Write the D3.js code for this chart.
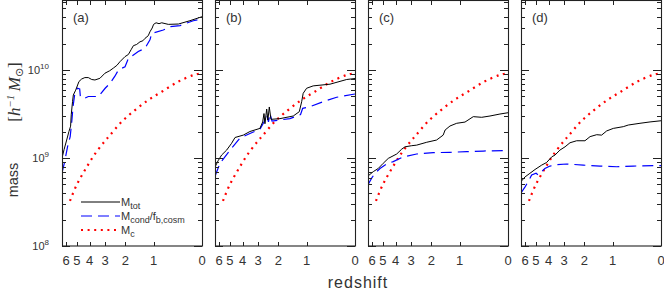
<!DOCTYPE html>
<html><head><meta charset="utf-8">
<script src="https://cdn.jsdelivr.net/npm/d3@7"></script>
<style>body{margin:0;background:#fff}svg{display:block}</style>
</head><body><svg id="c" width="664" height="291"></svg>
<script>
// ---- data ----
const redshiftTicks = [6, 5, 4, 3, 2, 1, 0];
const massTicks = [1e8, 1e9, 1e10];
const massTickExp = ["8", "9", "10"];
const panelLabels = ["(a)", "(b)", "(c)", "(d)"];

// M_c (same in every panel): [redshift, mass]
const mcAll = [[5.62,3.25e8],[5.0,5.0e8],[4.34,7.3e8],[3.68,1.08e9],[3.05,1.53e9],[2.73,1.82e9],[2.16,2.58e9],[1.61,3.5e9],[1.158,4.55e9],[0.78,5.66e9],[0.40,7.4e9],[0.121,8.8e9],[0,9.2e9]];

const mtotA = [[6.42,1.0e9],[6.2,1.25e9],[5.94,1.6e9],[5.72,2.0e9],[5.56,2.3e9],[5.5,3.1e9],[5.38,4.4e9],[5.31,5.2e9],[5.10,5.9e9],[4.82,7.4e9],[4.6,7.9e9],[4.35,8.2e9],[4.09,8.2e9],[3.85,7.8e9],[3.63,7.7e9],[3.31,8.05e9],[3.01,9.2e9],[2.75,9.8e9],[2.56,1.05e10],[2.38,1.13e10],[2.24,1.24e10],[2.01,1.42e10],[1.87,1.5e10],[1.76,1.7e10],[1.67,1.89e10],[1.55,1.95e10],[1.43,2.09e10],[1.33,2.15e10],[1.26,2.29e10],[1.16,2.45e10],[1.106,2.72e10],[1.04,3.0e10],[1.0,3.3e10],[0.93,3.44e10],[0.85,3.36e10],[0.78,3.44e10],[0.62,3.3e10],[0.40,3.33e10],[0.19,3.63e10],[0,4.03e10]];
const mcondA = [[6.42,6.8e8],[6.15,9e8],[5.85,1.35e9],[5.6,1.75e9],[5.45,2.6e9],[5.33,3.9e9],[5.16,5.6e9],[4.95,6.2e9],[4.76,6.1e9],[4.70,4.9e9],[4.6,4.85e9],[4.34,4.8e9],[4.09,5.0e9],[3.52,5.0e9],[3.41,5.0e9],[3.0,6.2e9],[2.73,7.05e9],[2.48,8.5e9],[2.31,1.0e10],[2.01,1.09e10],[1.87,1.35e10],[1.49,1.62e10],[1.26,1.77e10],[1.106,2.2e10],[1.055,2.6e10],[0.74,2.85e10],[0.58,3.1e10],[0.37,3.2e10],[0.133,3.63e10],[0,3.8e10]];

const mtotB = [[6.42,7.9e8],[6.1,9.3e8],[5.75,1.08e9],[5.28,1.23e9],[4.85,1.47e9],[4.57,1.71e9],[3.95,1.82e9],[3.5,2.0e9],[2.9,2.17e9],[2.75,2.57e9],[2.68,3.2e9],[2.63,2.45e9],[2.54,3.6e9],[2.48,2.7e9],[2.41,3.8e9],[2.33,2.75e9],[1.93,2.8e9],[1.42,3.0e9],[1.22,3.36e9],[1.146,4.36e9],[1.10,5.43e9],[1.0,6.2e9],[0.82,6.6e9],[0.43,6.9e9],[0.126,7.8e9],[0,8.0e9]];
const mcondB = [[6.42,6.2e8],[5.91,8.7e8],[4.98,1.23e9],[4.19,1.68e9],[3.5,1.9e9],[2.9,2.12e9],[2.68,2.57e9],[2.54,3.1e9],[2.45,2.57e9],[2.38,3.2e9],[2.28,2.63e9],[1.54,2.8e9],[1.18,3.12e9],[1.115,3.67e9],[0.905,3.83e9],[0.574,4.37e9],[0.30,4.9e9],[0,5.34e9]];

const mtotC = [[6.45,6.2e8],[5.88,7.0e8],[5.41,7.6e8],[4.97,8.7e8],[4.55,9.9e8],[3.92,1.11e9],[3.58,1.26e9],[3.37,1.34e9],[2.97,1.38e9],[2.70,1.40e9],[2.20,1.51e9],[1.78,1.60e9],[1.53,1.82e9],[1.46,2.08e9],[1.295,2.31e9],[1.084,2.48e9],[0.851,2.56e9],[0.644,2.95e9],[0.457,2.9e9],[0.294,3.0e9],[0.122,3.16e9],[0,3.27e9]];
const mcondC = [[6.45,4.9e8],[6.04,5.9e8],[5.72,6.7e8],[5.25,7.6e8],[4.68,8.55e8],[4.17,9.1e8],[3.48,1.03e9],[2.70,1.11e9],[1.915,1.15e9],[1.295,1.16e9],[0.807,1.18e9],[0.424,1.20e9],[0,1.22e9]];

const mtotD = [[6.42,5.4e8],[6.0,6.1e8],[5.53,6.7e8],[5.07,7.4e8],[4.52,8.3e8],[4.14,8.9e8],[3.78,1.03e9],[3.56,1.08e9],[3.25,1.23e9],[2.95,1.34e9],[2.68,1.49e9],[2.345,1.57e9],[1.97,1.57e9],[1.76,1.75e9],[1.51,1.84e9],[1.34,1.82e9],[1.177,2.03e9],[0.98,2.17e9],[0.716,2.27e9],[0.597,2.37e9],[0.351,2.48e9],[0.17,2.57e9],[0,2.65e9]];
const mcondD = [[6.42,4.0e8],[6.0,4.7e8],[5.69,5.4e8],[5.37,6.4e8],[4.98,6.7e8],[4.8,6.4e8],[4.52,7.0e8],[4.27,7.6e8],[3.90,8.1e8],[3.45,8.4e8],[2.86,8.55e8],[2.04,8.3e8],[1.395,8.1e8],[0.886,7.95e8],[0.486,8.1e8],[0,8.2e8]];

const mtotPanels = [mtotA, mtotB, mtotC, mtotD];
const mcondPanels = [mcondA, mcondB, mcondC, mcondD];

// ---- layout ----
const svg = d3.select("#c");
const yTop = 1, yBot = 246, pw = 140, step = 153, left0 = 62;
const axisColor = "#222", textColor = "#333";
const y = d3.scaleLog().domain([1e8, Math.pow(10, 8 + 245 / 88)]).range([yBot, yTop]);

const defs = svg.append("defs");

panelLabels.forEach((lab, i) => {
  const L = left0 + i * step, R = L + pw;
  const xs = d3.scaleLog().domain([7.42, 1]).range([L, R]);
  const x = z => xs(1 + z);
  const g = svg.append("g");
  defs.append("clipPath").attr("id", "clip" + i).append("rect")
    .attr("x", L).attr("y", yTop).attr("width", pw).attr("height", yBot - yTop);
  const cg = g.append("g").attr("clip-path", `url(#clip${i})`);
  const line = d3.line().x(d => x(d[0])).y(d => y(d[1]));
  const smooth = d3.line().x(d => x(d[0])).y(d => y(d[1])).curve(d3.curveCatmullRom);

  cg.append("path").attr("d", smooth(mcAll)).attr("fill", "none")
    .attr("stroke", "#ff0000").attr("stroke-width", 2.2).attr("stroke-dasharray", "2,4.6");
  cg.append("path").attr("d", line(mcondPanels[i])).attr("fill", "none")
    .attr("stroke", "#0000ff").attr("stroke-width", 1.2).attr("stroke-dasharray", "11,6");
  cg.append("path").attr("d", line(mtotPanels[i])).attr("fill", "none")
    .attr("stroke", "#000").attr("stroke-width", 1);

  // frame
  g.append("rect").attr("x", L + 0.5).attr("y", yTop - 0.5).attr("width", pw).attr("height", yBot - yTop + 0.5)
    .attr("fill", "none").attr("stroke", axisColor).attr("stroke-width", 1.1);

  // y ticks (major + minor), both sides, inward
  const yt = [];
  for (let e = 8; e <= 10; e++) for (let k = 1; k <= 9; k++) {
    const v = k * Math.pow(10, e);
    if (v >= y.domain()[0] && v <= y.domain()[1]) yt.push({v, major: k === 1});
  }
  yt.forEach(t => {
    const yy = Math.round(y(t.v)) + 0.5, len = t.major ? 8 : 4;
    g.append("line").attr("x1", L).attr("x2", L + len).attr("y1", yy).attr("y2", yy)
      .attr("stroke", axisColor).attr("stroke-width", 1);
    g.append("line").attr("x1", R).attr("x2", R - len).attr("y1", yy).attr("y2", yy)
      .attr("stroke", axisColor).attr("stroke-width", 1);
  });

  // x ticks top & bottom, labels
  redshiftTicks.forEach(z => {
    const xx = Math.round(x(z)) + 0.5;
    g.append("line").attr("x1", xx).attr("x2", xx).attr("y1", yBot).attr("y2", yBot - 4)
      .attr("stroke", axisColor);
    g.append("line").attr("x1", xx).attr("x2", xx).attr("y1", yTop).attr("y2", yTop + 4)
      .attr("stroke", axisColor);
    g.append("text").attr("x", x(z)).attr("y", 265).attr("text-anchor", "middle")
      .attr("font-family", "Liberation Sans, Arial, sans-serif").attr("font-size", 13)
      .attr("fill", textColor).text(z);
  });

  g.append("text").attr("x", L + 11).attr("y", 22)
    .attr("font-family", "Liberation Sans, Arial, sans-serif").attr("font-size", 13)
    .attr("fill", textColor).text(lab);
});

// y tick labels (only first panel)
massTicks.forEach((v, i) => {
  const t = svg.append("text").attr("x", 49).attr("y", y(v) + 4).attr("text-anchor", "end")
    .attr("font-family", "Liberation Sans, Arial, sans-serif").attr("font-size", 11).attr("fill", textColor);
  t.append("tspan").text("10");
  t.append("tspan").attr("dy", -5).attr("font-size", 8).text(massTickExp[i]);
});

// axis titles
svg.append("text").attr("transform", "translate(18,180) rotate(-90)").attr("text-anchor", "middle")
  .attr("font-family", "Liberation Sans, Arial, sans-serif").attr("font-size", 14.5)
  .attr("fill", textColor).text("mass");
const bt = svg.append("text").attr("transform", "translate(20,92) rotate(-90)").attr("text-anchor", "middle")
  .attr("font-family", "Liberation Serif, DejaVu Serif, serif").attr("font-size", 17).attr("fill", textColor);
bt.append("tspan").text("[");
bt.append("tspan").attr("font-style", "italic").text("h");
bt.append("tspan").attr("font-style", "italic").attr("font-size", 11).attr("dy", -6).text("−1");
bt.append("tspan").attr("font-style", "italic").attr("dy", 6).text("\u2009M");
bt.append("tspan").attr("font-size", 11).attr("dy", 3).attr("font-family", "DejaVu Sans, sans-serif").text("⊙");
bt.append("tspan").attr("dy", -3).text("]");

svg.append("text").attr("x", 358).attr("y", 288).attr("text-anchor", "middle")
  .attr("font-family", "Liberation Sans, Arial, sans-serif").attr("font-size", 16)
  .attr("letter-spacing", 1).attr("fill", textColor).text("redshift");

// legend in panel (a)
const legend = [
  {main: "M", sub: "tot", rest: null, sub2: null, color: "#000", dash: null, w: 1},
  {main: "M", sub: "cond", rest: "/f", sub2: "b,cosm", color: "#0000ff", dash: "11,6", w: 1.2},
  {main: "M", sub: "c", rest: null, sub2: null, color: "#ff0000", dash: "2,4.6", w: 2.2}
];
legend.forEach((d, i) => {
  const yy = 202 + i * 14;
  svg.append("line").attr("x1", 81).attr("x2", 120).attr("y1", yy).attr("y2", yy)
    .attr("stroke", d.color).attr("stroke-width", d.w).attr("stroke-dasharray", d.dash);
  const t = svg.append("text").attr("x", 121).attr("y", yy + 4)
    .attr("font-family", "Liberation Sans, Arial, sans-serif").attr("font-size", 11).attr("fill", textColor);
  t.append("tspan").text(d.main);
  t.append("tspan").attr("font-size", 9).attr("dy", 3).text(d.sub);
  if (d.rest) {
    t.append("tspan").attr("dy", -3).attr("font-size", 11).text(d.rest);
    t.append("tspan").attr("font-size", 9).attr("dy", 3).text(d.sub2);
  }
});
</script></body></html>
